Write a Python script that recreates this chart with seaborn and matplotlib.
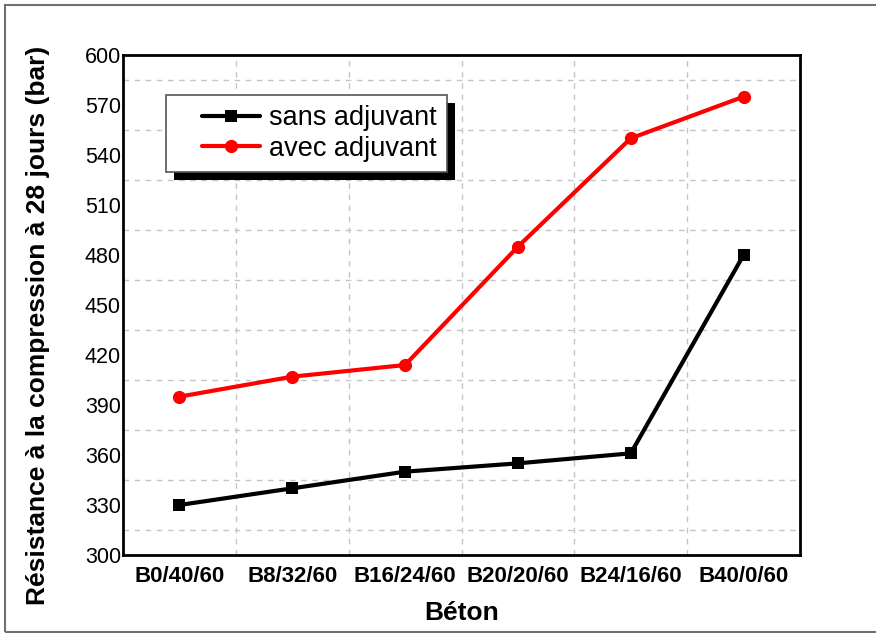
import numpy as np
import pandas as pd
import matplotlib
matplotlib.use("Agg")
import matplotlib.pyplot as plt
from matplotlib.patches import Rectangle
from matplotlib.legend_handler import HandlerLine2D
from matplotlib.ticker import FixedLocator
import seaborn as sns

# Concrete mixes and 28-day compressive strength (bar)
betons = ["B0/40/60", "B8/32/60", "B16/24/60", "B20/20/60", "B24/16/60", "B40/0/60"]
sans_adjuvant = [330, 340, 350, 355, 361, 480]
avec_adjuvant = [395, 407, 414, 485, 550, 575]
series_names = ["sans adjuvant", "avec adjuvant"]
y_ticks = list(range(300, 601, 30))

df = pd.DataFrame({
    "Béton": betons * 2,
    "Résistance": sans_adjuvant + avec_adjuvant,
    "Série": [series_names[0]] * len(betons) + [series_names[1]] * len(betons),
})

sns.set_theme(style="white")
plt.rcParams["font.family"] = ["Liberation Sans", "DejaVu Sans"]
plt.rcParams["text.color"] = "black"
plt.rcParams["axes.labelcolor"] = "black"
plt.rcParams["xtick.color"] = "black"
plt.rcParams["ytick.color"] = "black"

fig = plt.figure(figsize=(8.76, 6.33), dpi=100)
ax = fig.add_axes([123 / 876, 1 - 555 / 633, (800 - 123) / 876, (555 - 55) / 633])

sns.lineplot(
    data=df, x="Béton", y="Résistance", hue="Série", style="Série",
    palette={series_names[0]: "black", series_names[1]: "#ff0000"},
    markers={series_names[0]: "s", series_names[1]: "o"},
    dashes=False, sort=False, linewidth=3, markersize=9.5,
    markeredgewidth=0, ax=ax, legend=False, zorder=3,
)
# marker sizes per series
for line, ms in zip(ax.get_lines(), [8.5, 9.5]):
    line.set_markersize(ms)

ax.set_xlim(-0.5, len(betons) - 0.5)
ax.set_ylim(300, 600)
ax.set_xticks(range(len(betons)))
ax.set_xticklabels(betons, fontweight="bold", fontsize=16, color="black")
ax.xaxis.set_minor_locator(FixedLocator(np.arange(0.5, len(betons) - 0.5, 1)))
ax.set_yticks(y_ticks)
ax.set_yticklabels([str(v) for v in y_ticks], fontsize=15.5, color="black")
ax.yaxis.set_minor_locator(FixedLocator(np.arange(315, 600, 30)))

ax.grid(False)
ax.grid(which="minor", color="#c4c4c4", linestyle=(0, (4, 4)), linewidth=1)
ax.tick_params(axis="x", which="major", direction="in", length=4, width=1,
               color="black", pad=8)
ax.tick_params(axis="y", which="major", length=0, pad=1.5)
ax.tick_params(which="minor", length=0)

for sp in ax.spines.values():
    sp.set_visible(True)
    sp.set_color("black")
    sp.set_linewidth(2)

ax.set_xlabel("Béton", fontweight="bold", fontsize=19, color="black")
ax.set_ylabel("Résistance à la compression à 28 jours (bar)",
              fontweight="bold", fontsize=19, color="black")
ax.yaxis.set_label_coords(-0.108, 0.46)
ax.xaxis.set_label_coords(0.5, -0.092)


class ShiftedLineHandler(HandlerLine2D):
    """Legend line drawn in the right part of the handle area."""

    def __init__(self, shift=0.8, **kw):
        super().__init__(**kw)
        self.shift = shift

    def create_artists(self, legend, orig_handle, xdescent, ydescent,
                       width, height, fontsize, trans):
        s = self.shift * fontsize
        return super().create_artists(legend, orig_handle, xdescent - s,
                                      ydescent, width - s, height,
                                      fontsize, trans)


handles = ax.get_lines()[:2]
leg = ax.legend(
    handles, series_names, loc="upper left", bbox_to_anchor=(0.0635, 0.92),
    borderaxespad=0, fontsize=19.5, handlelength=3.1, handletextpad=0.33,
    borderpad=0.38, labelspacing=0.17, frameon=True, fancybox=False,
    edgecolor="#555555", framealpha=1, facecolor="white",
    handler_map={h: ShiftedLineHandler(shift=0.95, numpoints=1) for h in handles},
)
leg.get_frame().set_linewidth(1.2)
leg.set_zorder(6)
for t in leg.get_texts():
    t.set_color("black")

fig.canvas.draw()
bb = leg.get_window_extent()
shadow = Rectangle((bb.x0 + 8, bb.y0 - 8), bb.width, bb.height,
                   transform=None, facecolor="black", edgecolor="none",
                   zorder=5.5, clip_on=False)
ax.add_artist(shadow)

# outer frame of the figure (open on the right edge)
fig.patches.append(Rectangle((5 / 876, 1 / 633), 880 / 876, 627.5 / 633,
                             transform=fig.transFigure, fill=False,
                             edgecolor="#707070", linewidth=1.5))

fig.savefig("out.png", dpi=100)
